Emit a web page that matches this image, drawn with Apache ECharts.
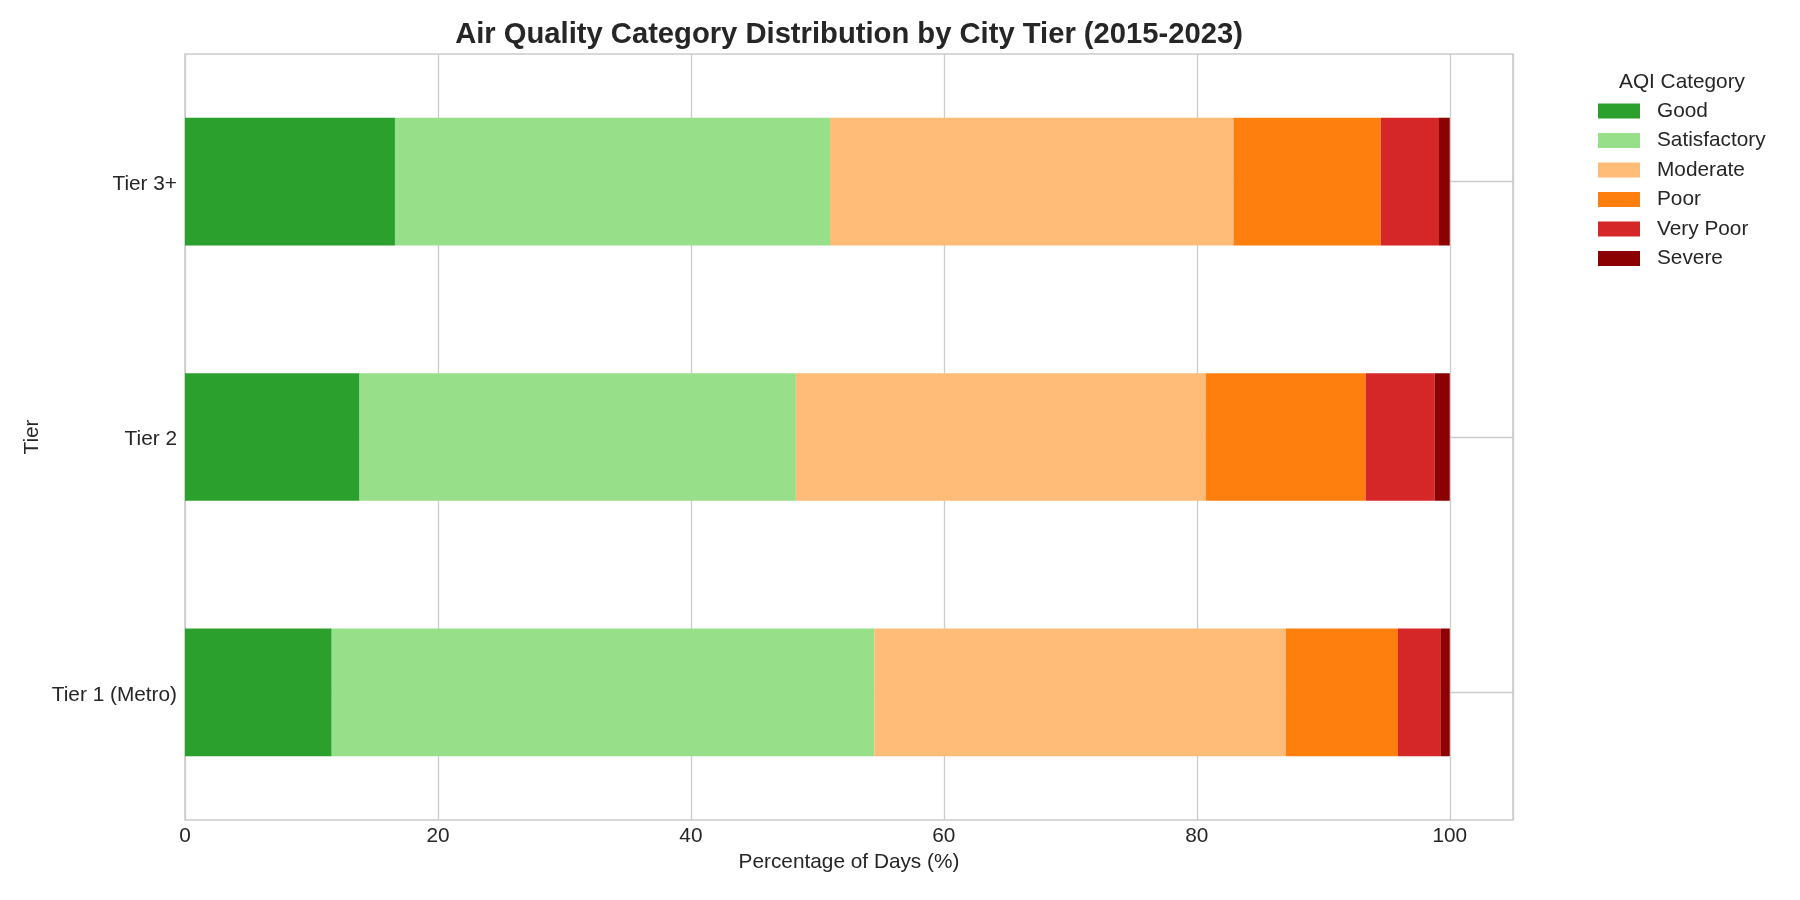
<!DOCTYPE html>
<html>
<head>
<meta charset="utf-8">
<script src="https://cdn.jsdelivr.net/npm/echarts@6/dist/echarts.min.js"></script>
<style>
html,body{margin:0;padding:0;background:#fff;}
#chart{width:1800px;height:900px;}
</style>
</head>
<body>
<div id="chart"></div>
<script>
const tiers = ['Tier 1 (Metro)', 'Tier 2', 'Tier 3+'];
const categoryNames = ['Good', 'Satisfactory', 'Moderate', 'Poor', 'Very Poor', 'Severe'];
const categoryColors = ['#2ca02c', '#98df8a', '#ffbb78', '#ff7f0e', '#d62728', '#8b0000'];
const good = [11.6, 13.8, 16.6];
const satisfactory = [42.9, 34.5, 34.4];
const moderate = [32.55, 32.4, 31.9];
const poor = [8.85, 12.65, 11.65];
const veryPoor = [3.4, 5.45, 4.6];
const severe = [0.7, 1.2, 0.85];
const xTicks = [0, 20, 40, 60, 80, 100];

const seriesValues = [good, satisfactory, moderate, poor, veryPoor, severe];
const FONT = 'Liberation Sans, Arial, sans-serif';
const TXT = '#262626';
const FS = 20.8;

const chart = echarts.init(document.getElementById('chart'), null, {renderer: 'canvas'});
chart.setOption({
  animation: false,
  backgroundColor: '#ffffff',
  textStyle: {fontFamily: FONT},
  title: [
    {
      text: 'Air Quality Category Distribution by City Tier (2015-2023)',
      left: 844, top: 15, textAlign: 'center',
      textStyle: {fontFamily: FONT, fontSize: 29.2, fontWeight: 'bold', color: TXT}
    },
    {
      text: 'AQI Category',
      left: 1677, top: 66.5, textAlign: 'center',
      textStyle: {fontFamily: FONT, fontSize: FS, fontWeight: 'normal', color: TXT}
    }
  ],
  legend: {
    orient: 'vertical',
    left: 1598, top: 100.5,
    padding: 0,
    itemWidth: 42, itemHeight: 15, itemGap: 8.5,
    icon: 'rect',
    data: categoryNames,
    textStyle: {fontFamily: FONT, fontSize: FS, color: TXT, lineHeight: 15, padding: [0, 0, 0, 12]}
  },
  grid: {
    left: 185, right: 287, top: 54, bottom: 80,
    show: true, borderColor: '#cccccc', borderWidth: 1.6, backgroundColor: '#ffffff'
  },
  xAxis: {
    type: 'value', min: 0, max: 105, interval: 20,
    name: 'Percentage of Days (%)', nameLocation: 'middle', nameGap: 32,
    nameTextStyle: {fontFamily: FONT, fontSize: FS, color: TXT},
    axisLine: {show: false}, axisTick: {show: false},
    axisLabel: {
      fontFamily: FONT, fontSize: FS, color: TXT, margin: 6, showMaxLabel: false,
      formatter: function (v) { return xTicks.indexOf(v) >= 0 ? String(v) : ''; }
    },
    splitLine: {show: true, lineStyle: {color: '#cccccc', width: 1.3}}
  },
  yAxis: {
    type: 'category', data: tiers,
    name: 'Tier', nameLocation: 'middle', nameGap: 142, nameMoveOverlap: false,
    nameTextStyle: {fontFamily: FONT, fontSize: FS, color: TXT},
    axisLine: {show: false},
    axisTick: {show: false, alignWithLabel: true},
    axisLabel: {
      fontFamily: FONT, fontSize: FS, color: TXT, margin: 8,
      formatter: function (v) { return '{t|' + v + '}'; },
      rich: {t: {fontFamily: FONT, fontSize: FS, color: TXT, padding: [5, 0, 0, 0]}}
    },
    splitLine: {show: true, alignWithLabel: true, lineStyle: {color: '#cccccc', width: 1.3}}
  },
  series: categoryNames.map(function (name, i) {
    return {
      name: name, type: 'bar', stack: 'total', barWidth: '50%',
      itemStyle: {color: categoryColors[i]},
      data: seriesValues[i]
    };
  })
});
</script>
</body>
</html>
